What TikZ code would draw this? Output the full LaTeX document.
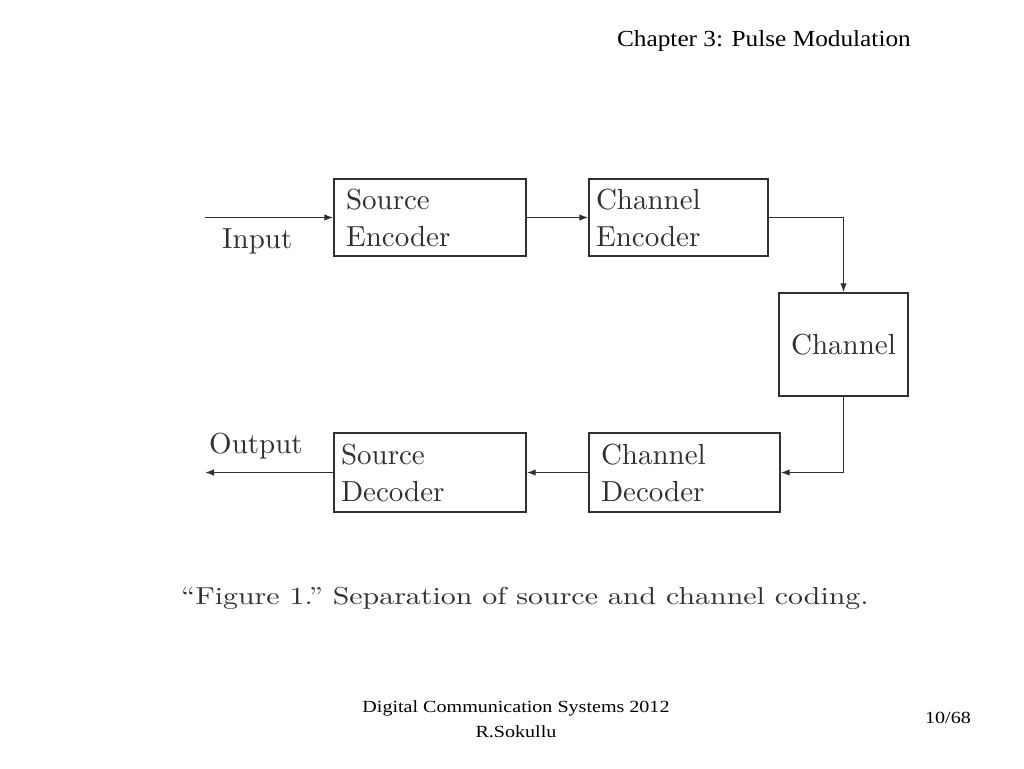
\documentclass[tikz,border=0pt]{standalone}
\usepackage{fontspec}
\newfontfamily\tnrhd{Liberation Serif}[FakeStretch=1.10]
\newfontfamily\tnrft{Liberation Serif}[FakeStretch=1.18]
\newfontfamily\lmx{lmroman10-regular.otf}
\newfontfamily\lmcap{lmroman10-regular.otf}[FakeStretch=1.22]
\usetikzlibrary{arrows.meta}
\definecolor{ink}{HTML}{303030}
\tikzset{
  blk/.style={draw=ink, line width=1.4pt, text=ink, align=left, font=\lmx\fontsize{29}{37}\selectfont, inner ysep=0pt},
  conn/.style={draw=ink, line width=1.3pt, -{Latex[length=9pt,width=6.5pt]}},
  lbl/.style={text=ink, font=\lmx\fontsize{29}{37}\selectfont, inner sep=0pt},
  slide/.style={text=black, inner sep=0pt}
}
\begin{document}
\begin{tikzpicture}[x=1pt,y=-1pt]
\useasboundingbox[fill=white] (0,0) rectangle (1024,768);
% blocks
\node[blk, minimum height=77pt, text width=168pt, inner xsep=12pt] (se) at (430,217.5) {Source\\Encoder};
\node[blk, minimum height=77pt, text width=165pt, inner xsep=7pt] (ce) at (678.5,217.5) {Channel\\Encoder};
\node[blk, minimum height=103pt, minimum width=129pt, align=center, inner xsep=0pt] (ch) at (843.5,344.5) {Channel};
\node[blk, minimum height=79pt, text width=167pt, inner xsep=12pt] (cd) at (684.5,472.5) {Channel\\Decoder};
\node[blk, minimum height=79pt, text width=178pt, inner xsep=7pt] (sd) at (430,472.5) {Source\\Decoder};
% free ends
\coordinate (in) at (205,217.5);
\coordinate (out) at (205,472.5);
% connectors
\draw[conn] (in) -- (se.west);
\draw[conn] (se.east) -- (ce.west);
\draw[conn] (ce.east) -| (ch.north);
\draw[conn] (ch.south) |- (cd.east);
\draw[conn] (cd.west) -- (sd.east);
\draw[conn] (sd.west) -- (out);
% labels
\node[lbl, anchor=base west] (inl) at (222,248) {Input};
\node[lbl, anchor=base west] (outl) at (209,453) {Output};
\node[lbl, anchor=base, font=\lmcap\fontsize{24.5}{30}\selectfont] (cap) at (525,604) {“Figure 1.”\ Separation of source and channel coding.};
% slide text
\node[slide, anchor=base east, font=\tnrhd\fontsize{23}{26}\selectfont] (hdr) at (911,47) {Chapter 3: Pulse Modulation};
\node[slide, anchor=base, font=\tnrft\fontsize{17}{24}\selectfont] (ft1) at (516,712) {Digital Communication Systems 2012};
\node[slide, anchor=base, font=\tnrft\fontsize{17}{24}\selectfont] (ft2) at (516,737) {R.Sokullu};
\node[slide, anchor=base, font=\tnrft\fontsize{17}{24}\selectfont] (pg) at (948,723) {10/68};
\end{tikzpicture}
\end{document}
